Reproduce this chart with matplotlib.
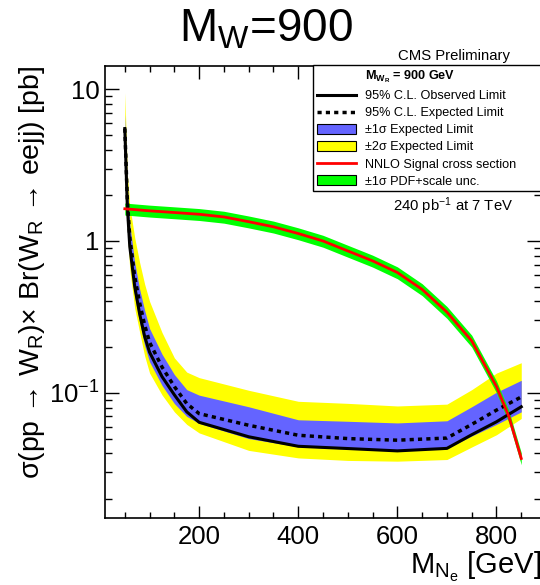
import numpy as np
import matplotlib
matplotlib.use("Agg")
import matplotlib.pyplot as plt
from matplotlib.lines import Line2D
from matplotlib.patches import Patch
from matplotlib.ticker import MultipleLocator, LogLocator, FuncFormatter, NullFormatter

plt.rcParams['font.family'] = ['Liberation Sans', 'DejaVu Sans']
plt.rcParams['mathtext.fontset'] = 'custom'
plt.rcParams['mathtext.rm'] = 'Liberation Sans'
plt.rcParams['mathtext.it'] = 'Liberation Sans:italic'
plt.rcParams['mathtext.bf'] = 'Liberation Sans:bold'

# limit points (M_Ne in GeV, cross section in pb)
mass = [50, 55, 60, 70, 80, 90, 100, 125, 150, 175, 200, 300, 400, 500, 600, 700, 750, 800, 850]
observed = [5.5, 1.7, 0.92, 0.5, 0.33, 0.235, 0.185, 0.128, 0.097, 0.075, 0.064,
            0.0514, 0.0445, 0.043, 0.0415, 0.0431, 0.053, 0.0645, 0.081]
expected = [5.5, 1.9, 1.05, 0.58, 0.39, 0.28, 0.215, 0.148, 0.11, 0.085, 0.073,
            0.0612, 0.0526, 0.050, 0.0488, 0.0504, 0.062, 0.077, 0.094]
exp_1s_lo = [4.8, 1.45, 0.78, 0.43, 0.29, 0.205, 0.16, 0.112, 0.085, 0.07, 0.063,
             0.050, 0.0442, 0.0427, 0.0423, 0.043, 0.052, 0.062, 0.075]
exp_1s_hi = [6.8, 2.3, 1.3, 0.72, 0.48, 0.35, 0.265, 0.18, 0.132, 0.105, 0.0966,
             0.081, 0.0665, 0.065, 0.0634, 0.0655, 0.081, 0.101, 0.121]
exp_2s_lo = [4.0, 1.2, 0.65, 0.36, 0.25, 0.175, 0.135, 0.097, 0.075, 0.062, 0.0545,
             0.0418, 0.0373, 0.0359, 0.0355, 0.0364, 0.044, 0.053, 0.0678]
exp_2s_hi = [9.5, 2.8, 1.7, 1.05, 0.72, 0.52, 0.40, 0.25, 0.17, 0.137, 0.126,
             0.104, 0.088, 0.0853, 0.082, 0.0843, 0.105, 0.135, 0.158]

# NNLO signal cross section
sig_mass = [50, 100, 150, 200, 250, 300, 350, 400, 450, 500, 550, 600, 650, 700, 750, 800, 825, 850]
sig_xsec = [1.63, 1.58, 1.54, 1.50, 1.44, 1.34, 1.24, 1.12, 1.0, 0.86, 0.74, 0.62, 0.48,
            0.34, 0.22, 0.11, 0.07, 0.037]
sig_unc = 0.09

sig_xsec = np.array(sig_xsec)

fig = plt.figure(figsize=(5.4, 5.85), dpi=100)
ax = fig.add_axes([105/540, 1 - 518/585, 1.002 - 105/540, (518 - 66)/585])

ax.fill_between(mass, exp_2s_lo, exp_2s_hi, color='#ffff00', lw=0)
ax.fill_between(mass, exp_1s_lo, exp_1s_hi, color='#6464ff', lw=0)
ax.plot(mass, expected, color='black', lw=2.5, ls=(0, (1.2, 1.2)))
ax.plot(mass, observed, color='black', lw=2.2)
ax.fill_between(sig_mass, sig_xsec*(1 - sig_unc), sig_xsec*(1 + sig_unc), color='#00ff00', lw=0)
ax.plot(sig_mass, sig_xsec, color='#ff0000', lw=2)

ax.set_yscale('log')
ax.set_xlim(10, 890)
ax.set_ylim(0.015, 14.2)

ax.xaxis.set_major_locator(MultipleLocator(200))
ax.xaxis.set_minor_locator(MultipleLocator(50))
ax.yaxis.set_major_locator(LogLocator(base=10))
ax.yaxis.set_minor_locator(LogLocator(base=10, subs=np.arange(2, 10)))
ax.yaxis.set_minor_formatter(NullFormatter())


def ylab(v, pos):
    if v >= 1:
        return '%d' % round(v)
    return r'$\mathregular{10^{%d}}$' % round(np.log10(v))


ax.yaxis.set_major_formatter(FuncFormatter(ylab))

ax.tick_params(axis='both', which='both', direction='in', top=True, right=True, width=1)
ax.tick_params(axis='x', which='major', length=9, labelsize=18.5, pad=5)
ax.tick_params(axis='x', which='minor', length=4)
ax.tick_params(axis='y', which='major', length=10, labelsize=18.5, pad=4)
ax.tick_params(axis='y', which='minor', length=5)
for s in ax.spines.values():
    s.set_linewidth(1.2)

ax.set_xlabel(r'$\mathregular{M_{N_e}}$ [GeV]', fontsize=21, loc='right')
ax.xaxis.set_label_coords(1.0, -0.071)
ax.set_ylabel(r'σ(pp → W$_\mathregular{R}$)× Br(W$_\mathregular{R}$ → eejj) [pb]',
              fontsize=20.5, loc='top')
ax.yaxis.set_label_coords(-0.133, 1.0)

fig.text(0.493, 0.949, r'$\mathregular{M_W}$=900', fontsize=33, ha='center', va='center')
fig.text(0.84, 0.905, 'CMS Preliminary', fontsize=10.7, ha='center', va='center')
fig.text(0.84, 0.648, r'240 pb$^{\mathregular{-1}}$ at 7 TeV', fontsize=10.7, ha='center', va='center')

handles = [
    Line2D([], [], color='none'),
    Line2D([], [], color='black', lw=2.2),
    Line2D([], [], color='black', lw=2.5, ls=(0, (1.2, 1.2))),
    Patch(facecolor='#6464ff', edgecolor='black', lw=0.8),
    Patch(facecolor='#ffff00', edgecolor='black', lw=0.8),
    Line2D([], [], color='#ff0000', lw=2),
    Patch(facecolor='#00ff00', edgecolor='black', lw=0.8),
]
labels = [
    r'$\mathregular{M_{W_R}}$ = 900 GeV',
    '95% C.L. Observed Limit',
    '95% C.L. Expected Limit',
    '±1σ Expected Limit',
    '±2σ Expected Limit',
    'NNLO Signal cross section',
    '±1σ PDF+scale unc.',
]
leg = ax.legend(handles, labels, loc='upper left', mode='expand',
                bbox_to_anchor=(313/540, 1 - 65/585, 0.45, 0.0),
                bbox_transform=fig.transFigure, fontsize=9.1, frameon=True,
                fancybox=False, edgecolor='black', framealpha=1,
                handlelength=3.1, handleheight=0.9, handletextpad=0.7,
                labelspacing=0.35, borderpad=0.3, borderaxespad=0)
leg.get_frame().set_linewidth(1.0)
leg.get_texts()[0].set_fontweight('bold')

fig.savefig('out.png', dpi=100)
